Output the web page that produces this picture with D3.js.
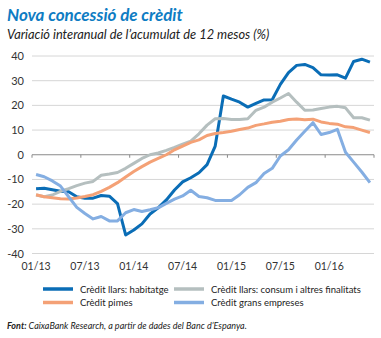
<!DOCTYPE html>
<html>
<head>
<meta charset="utf-8">
<script src="https://cdn.jsdelivr.net/npm/d3@7"></script>
<style>
  html, body { margin: 0; padding: 0; background: #fff; }
  svg { display: block; }
  text { font-family: Lato, "Open Sans", sans-serif; }
</style>
</head>
<body>
<div id="chart"></div>
<script>
// Monthly periods, January 2013 to June 2016
const months = [];
for (let y = 13; y <= 16; y++) {
  for (let m = 1; m <= 12; m++) {
    if (y === 16 && m > 6) break;
    months.push(String(m).padStart(2, "0") + "/" + y);
  }
}
const tickLabels = ["01/13", "07/13", "01/14", "07/14", "01/15", "07/15", "01/16"];
const yTicks = [40, 30, 20, 10, 0, -10, -20, -30, -40];

// Year-on-year change of the 12-month cumulative flow (%)
const habitatge = [-13.8, -13.6, -14.2, -14.8, -15, -17, -17.6, -17.6, -16.5, -16.8,
  -19.8, -32.5, -30.5, -28, -24, -21.5, -18.3, -14.3, -11, -9.3,
  -7.3, -4, 3.5, 23.8, 22.5, 21.3, 19.3, 20.8, 22.2, 22.3,
  28.5, 33.3, 36.2, 36.6, 35.3, 32.4, 32.3, 32.4, 31, 37.8,
  38.7, 37.5];
const consum = [-16.3, -17, -16.3, -14.8, -13.7, -12.5, -11.5, -10.8, -8.3, -7.8,
  -7.2, -5.5, -3.5, -1.5, 0, 0.7, 1.8, 3, 4.3, 5.5,
  8.5, 12, 14.6, 14.7, 14.3, 14.3, 14.6, 18, 19.3, 21.3,
  23, 24.8, 21.3, 18, 18.1, 18.7, 19.3, 19.6, 19, 15,
  15, 14];
const pimes = [-16.2, -17, -17.4, -17.8, -17.9, -17.5, -16.9, -16.2, -14.8, -13.2,
  -11.3, -9, -6.8, -4.8, -3, -1.5, 0, 2, 3.5, 5,
  6, 7.8, 8.6, 9, 9.5, 10.2, 10.8, 11.9, 12.5, 13.2,
  13.6, 14.3, 14.5, 14.2, 14.4, 13.3, 12.7, 12.4, 11.3, 11,
  10, 9];
const grans = [-8, -8.9, -10.6, -12.7, -17, -21.3, -23.8, -26, -25, -26.8,
  -26.8, -23.5, -22.2, -23, -22.3, -21.5, -19.7, -18, -16.7, -14.4,
  -16.9, -17.4, -18.5, -18.5, -18.5, -16.2, -13.2, -11.3, -7.6, -5.5,
  -0.5, 2, 6, 9.5, 13, 8.2, 9, 10.3, 1, -3,
  -7, -11.3];

const seriesNames = [
  "Crèdit llars: habitatge",
  "Crèdit llars: consum i altres finalitats",
  "Crèdit pimes",
  "Crèdit grans empreses"
];
const seriesValues = [habitatge, consum, pimes, grans];
const seriesColors = ["#0a6db6", "#b5bfbf", "#f4a176", "#84aee2"];

const W = 381, H = 338;
const svg = d3.select("#chart").append("svg")
  .attr("width", W).attr("height", H);
svg.append("rect").attr("width", W).attr("height", H).attr("fill", "#fff");

// Title block
svg.append("text")
  .attr("x", 7).attr("y", 21)
  .attr("fill", "#0e7cc3")
  .style("font-size", "17px").style("font-weight", "bold").style("font-style", "italic")
  .text("Nova concessió de crèdit");
svg.append("text")
  .attr("x", 7).attr("y", 39)
  .attr("fill", "#222")
  .style("font-size", "12.8px").style("font-style", "italic")
  .text("Variació interanual de l’acumulat de 12 mesos (%)");

// Scales
const x = d3.scaleBand().domain(months).range([32, 374]).padding(0);
const xc = d => x(d) + x.bandwidth() / 2;
const y = d3.scaleLinear().domain([-40, 40]).range([253.5, 56]);

// Horizontal gridlines
svg.append("g")
  .selectAll("line")
  .data(yTicks.filter(v => v !== 0))
  .join("line")
  .attr("x1", 32).attr("x2", 374)
  .attr("y1", d => y(d)).attr("y2", d => y(d))
  .attr("stroke", "#d6d6d6").attr("stroke-width", 1);

// Y axis labels
svg.append("g")
  .selectAll("text")
  .data(yTicks)
  .join("text")
  .attr("x", 24).attr("y", d => y(d) + 4)
  .attr("text-anchor", "end")
  .attr("fill", "#333")
  .style("font-size", "11px")
  .text(d => d);

// Zero axis with ticks at the start of every half-year
const zero = svg.append("g").attr("transform", `translate(0,${y(0)})`);
zero.append("line").attr("x1", 32).attr("x2", 374)
  .attr("stroke", "#8a8a8a").attr("stroke-width", 1);
const tickPos = tickLabels.map(l => x(l)).concat([x.range()[1]]);
zero.selectAll("line.tick")
  .data(tickPos)
  .join("line").attr("class", "tick")
  .attr("x1", d => d).attr("x2", d => d)
  .attr("y1", 0).attr("y2", 3)
  .attr("stroke", "#8a8a8a").attr("stroke-width", 1);

// X labels under the plot, centred on their month
svg.append("g")
  .selectAll("text")
  .data(tickLabels)
  .join("text")
  .attr("x", d => xc(d)).attr("y", 269.5)
  .attr("text-anchor", "middle")
  .attr("fill", "#333")
  .style("font-size", "10.5px")
  .text(d => d);

// Lines
const line = d3.line()
  .x((d, i) => xc(months[i]))
  .y(d => y(d));
svg.append("g")
  .selectAll("path")
  .data(seriesValues)
  .join("path")
  .attr("d", d => line(d))
  .attr("fill", "none")
  .attr("stroke", (d, i) => seriesColors[i])
  .attr("stroke-width", 3)
  .attr("stroke-linejoin", "round");

// Legend, two columns
const legPos = [[43, 289], [174, 289], [43, 302.5], [174, 302.5]];
const leg = svg.append("g")
  .selectAll("g")
  .data(seriesNames)
  .join("g")
  .attr("transform", (d, i) => `translate(${legPos[i][0]},${legPos[i][1]})`);
leg.append("line")
  .attr("x1", 0).attr("x2", 30)
  .attr("stroke", (d, i) => seriesColors[i])
  .attr("stroke-width", 3.5);
leg.append("text")
  .attr("x", 37).attr("y", 3.5)
  .attr("fill", "#222")
  .style("font-size", "9.5px")
  .text(d => d);

// Source note
const src = svg.append("text")
  .attr("x", 7).attr("y", 329)
  .attr("fill", "#222")
  .style("font-size", "9px").style("font-style", "italic");
src.append("tspan").style("font-weight", "bold").text("Font:");
src.append("tspan").text(" CaixaBank Research, a partir de dades del Banc d’Espanya.");
</script>
</body>
</html>
